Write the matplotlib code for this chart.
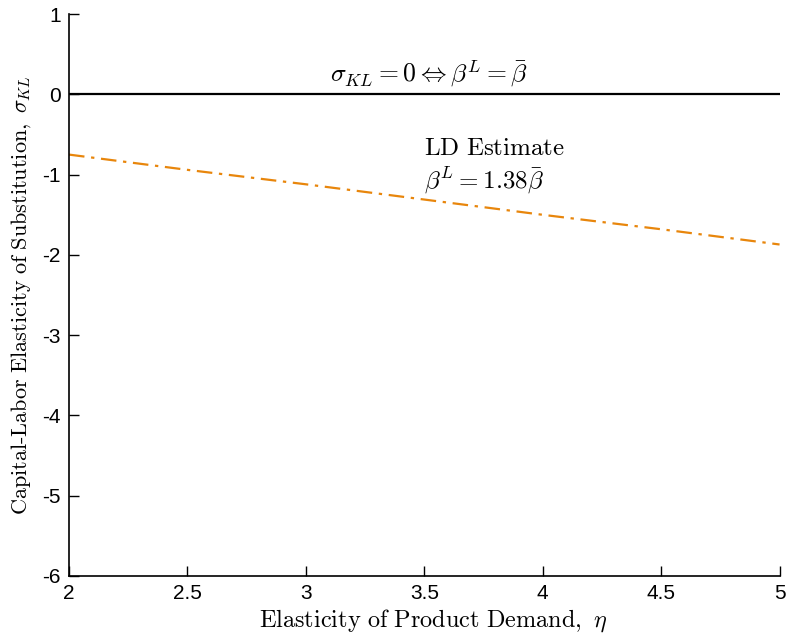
import matplotlib
matplotlib.use("Agg")
import matplotlib.pyplot as plt

# data
eta = [2.0, 2.5, 3.0, 3.5, 4.0, 4.5, 5.0]
sigma_ld = [-0.75, -0.94, -1.12, -1.31, -1.50, -1.68, -1.87]
sigma_zero = [0, 0, 0, 0, 0, 0, 0]

xticks = [2, 2.5, 3, 3.5, 4, 4.5, 5]
yticks = [-6, -5, -4, -3, -2, -1, 0, 1]

plt.rcParams['mathtext.fontset'] = 'cm'
plt.rcParams['font.family'] = ['Liberation Sans', 'DejaVu Sans']

fig = plt.figure(figsize=(7.86, 6.37), dpi=100)
ax = fig.add_axes([0.0878, 0.0958, 0.904, 0.882])

ax.plot(eta, sigma_zero, color='black', linewidth=1.6)
ax.plot(eta, sigma_ld, color='#E8860C', linewidth=1.6, dashes=(7, 3, 1.5, 3))

ax.set_xlim(2, 5)
ax.set_ylim(-6, 1)
ax.set_xticks(xticks)
ax.set_xticklabels([f'{t:g}' for t in xticks])
ax.set_yticks(yticks)
ax.set_yticklabels([f'{t:g}' for t in yticks])

for side in ['top', 'right']:
    ax.spines[side].set_visible(False)
for side in ['left', 'bottom']:
    ax.spines[side].set_linewidth(1.2)
ax.tick_params(direction='in', length=7, width=1.0, labelsize=15, pad=6)

ax.set_xlabel(r'$\mathrm{Elasticity\ of\ Product\ Demand,}\ \eta$', fontsize=17.5)
ax.set_ylabel(r'$\mathrm{Capital\text{-}Labor\ Elasticity\ of\ Substitution,}\ \sigma_{KL}$',
              fontsize=16)
ax.xaxis.set_label_coords(0.512, -0.056)
ax.yaxis.set_label_coords(-0.05, 0.5)

ax.text(3.52, 0.07, r'$\sigma_{KL}=0 \Leftrightarrow \beta^L=\bar{\beta}$',
        fontsize=18.5, ha='center', va='bottom')
ax.text(3.5, -0.67, r'$\mathrm{LD\ Estimate}$', fontsize=18, ha='left', va='center')
ax.text(3.5, -1.08, r'$\beta^L=1.38\bar{\beta}$', fontsize=18, ha='left', va='center')

fig.savefig('out.png', dpi=100)
